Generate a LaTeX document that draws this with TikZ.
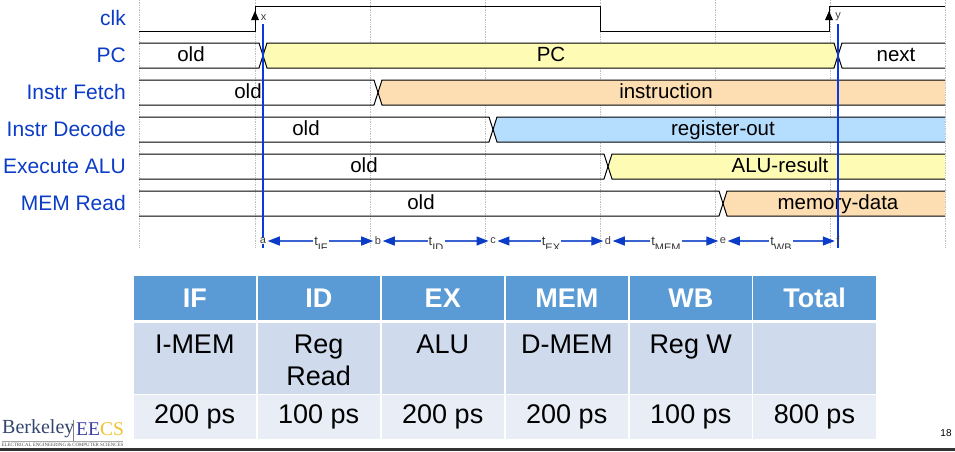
\documentclass[tikz,border=0pt]{standalone}
\usepackage{fontspec}
\setmainfont{Liberation Sans}
\newfontfamily\serifo{Liberation Serif}
\usetikzlibrary{arrows.meta}
\definecolor{sigblue}{HTML}{0B3CC8}
\definecolor{markblue}{HTML}{0A3ADF}
\definecolor{arrowblue}{HTML}{3A62D0}
\definecolor{tipblue}{HTML}{0B3CC8}
\definecolor{yel}{HTML}{FDFBB4}
\definecolor{ora}{HTML}{FDDDB2}
\definecolor{sky}{HTML}{B5DDFD}
\definecolor{hdr}{HTML}{5B9BD5}
\definecolor{rowa}{HTML}{CFDAEC}
\definecolor{rowb}{HTML}{E8EDF6}
\definecolor{logoblue}{HTML}{3A3FA0}
\definecolor{logonavy}{HTML}{34466E}
\definecolor{logogold}{HTML}{F2C230}
\tikzset{x=1pt,y=-1pt,
 siglabel/.style={anchor=base east,text=sigblue,font=\fontsize{21}{22}\selectfont,inner sep=0pt},
 wavetext/.style={anchor=base,text=black,font=\fontsize{20.5}{22}\selectfont,inner sep=0pt},
 wave/.style={draw=black,line width=1pt,line join=round},
 gridline/.style={draw=black!25,densely dotted,line width=0.7pt},
 marker/.style={draw=markblue,line width=1.1pt},
 ticktext/.style={font=\fontsize{11}{12}\selectfont,text=black!75,inner sep=1.5pt},
 timetext/.style={font=\fontsize{13}{14}\selectfont,text=black!80,inner xsep=1pt,inner ysep=0pt,fill=white},
 span/.style={draw=arrowblue,line width=1.2pt,-{Triangle[length=12pt,width=9pt,color=tipblue]},shorten >=0pt},
 hcell/.style={fill=hdr,text=white,font=\bfseries\fontsize{27}{30}\selectfont,minimum width=122.5pt,minimum height=44pt,inner sep=0pt},
 acell/.style={fill=rowa,minimum width=122.5pt,minimum height=71pt,inner sep=0pt},
 atext/.style={anchor=north,inner sep=0pt,align=center,text=black,font=\fontsize{27}{32}\selectfont},
 bcell/.style={fill=rowb,text=black,font=\fontsize{27}{30}\selectfont,minimum width=122.5pt,minimum height=44pt,inner sep=0pt},
}
\newcommand{\subs}[1]{\raisebox{-6pt}{\fontsize{11}{11}\selectfont #1}}
% row: top y, transition x, fill colour, old text x, new text x, new text, id
\newcommand{\waverow}[7]{%
 \fill[#3] (#2+4,#1) -- (945,#1) -- (945,#1+25) -- (#2+4,#1+25) -- (#2,#1+12.5) -- cycle;
 \draw[wave] (139,#1) -- (#2-4,#1) -- (#2+4,#1+25) -- (945,#1+25);
 \draw[wave] (139,#1+25) -- (#2-4,#1+25) -- (#2+4,#1) -- (945,#1);
 \node[wavetext] (old#7) at (#4,#1+18.5) {old};
 \node[wavetext] (new#7) at (#5,#1+18.5) {#6};
}
\begin{document}
\begin{tikzpicture}
\useasboundingbox (0,0) rectangle (955,451);
\fill[white] (0,0) rectangle (955,451);
% grid
\foreach \gx in {139,255,370,485,600,715,830,945}
  \draw[gridline] (\gx,0) -- (\gx,248);
% labels
\node[siglabel] (lclk) at (126,25) {clk};
\node[siglabel] (lpc) at (126,62) {PC};
\node[siglabel] (lif) at (126,99) {Instr Fetch};
\node[siglabel] (lid) at (126,136) {Instr Decode};
\node[siglabel] (lex) at (126,173) {Execute ALU};
\node[siglabel] (lmem) at (126,210) {MEM Read};
% clock
\draw[wave] (139,31) -- (255,31) -- (255,6) -- (600,6) -- (600,31) -- (829,31) -- (829,6) -- (945,6);
\fill (255,11) -- (251,20) -- (259,20) -- cycle;
\fill (829,11) -- (825,20) -- (833,20) -- cycle;
\node[ticktext] (xl) at (263.5,18) {x};
\node[ticktext] (yl) at (838,17) {y};
% PC row
\fill[yel] (267,43) -- (834,43) -- (838,55.5) -- (834,68) -- (267,68) -- (263,55.5) -- cycle;
\draw[wave] (139,43) -- (259,43) -- (267,68) -- (834,68) -- (842,43) -- (945,43);
\draw[wave] (139,68) -- (259,68) -- (267,43) -- (834,43) -- (842,68) -- (945,68);
\node[wavetext] (pcold) at (191,61.5) {old};
\node[wavetext] (pcnew) at (551,61.5) {PC};
\node[wavetext] (pcnext) at (896,61.5) {next};
% data rows
\waverow{80}{378}{ora}{248}{666}{instruction}{if}
\waverow{117}{493}{sky}{306}{723}{register-out}{id}
\waverow{154}{608}{yel}{364}{780}{ALU-result}{ex}
\waverow{191}{723}{ora}{421}{838}{memory-data}{mem}
% markers
\coordinate (xtop) at (263,24);
\coordinate (xbot) at (263,248);
\coordinate (ytop) at (838,24);
\coordinate (ybot) at (838,248);
\draw[marker] (xtop) -- (xbot);
\draw[marker] (ytop) -- (ybot);
% time marks
\node[ticktext,fill=white,inner ysep=0pt] (a) at (263,241) {a};
\node[ticktext] (b) at (378,241) {b};
\node[ticktext] (c) at (493,241) {c};
\node[ticktext] (d) at (608,241) {d};
\node[ticktext] (e) at (723,241) {e};
\node[ticktext] (f) at (838,241) {f};
\node[timetext,anchor=base] (t1) at (321,245) {t\subs{IF}};
\node[timetext,anchor=base] (t2) at (436,245) {t\subs{ID}};
\node[timetext,anchor=base] (t3) at (551,245) {t\subs{EX}};
\node[timetext,anchor=base] (t4) at (666,245) {t\subs{MEM}};
\node[timetext,anchor=base] (t5) at (781,245) {t\subs{WB}};
\draw[span] (t1.west|-a) -- (a); \draw[span] (t1.east|-a) -- (b);
\draw[span] (t2.west|-a) -- (b); \draw[span] (t2.east|-a) -- (c);
\draw[span] (t3.west|-a) -- (c); \draw[span] (t3.east|-a) -- (d);
\draw[span] (t4.west|-a) -- (d); \draw[span] (t4.east|-a) -- (e);
\draw[span] (t5.west|-a) -- (e); \draw[span] (t5.east|-a) -- (f);
\fill[white] (240,248.5) rectangle (860,256);
% table
\foreach \n/\cx/\h/\bb in {1/194.75/IF/200 ps,2/318.75/ID/100 ps,3/442.75/EX/200 ps,4/566.75/MEM/200 ps,5/690.75/WB/100 ps,6/814.5/Total/800 ps}{
 \node[hcell] (h\n) at (\cx,298) {\h};
 \node[bcell] (v\n) at (\cx,417) {\raisebox{-1.5pt}{\bb}};
}
\node[acell] (r1) at (194.75,358) {}; \node[atext] (r1t) at (194.75,335) {I-MEM};
\node[acell] (r2) at (318.75,358) {}; \node[atext] (r2t) at (318.75,335) {Reg\\Read};
\node[acell] (r3) at (442.75,358) {}; \node[atext] (r3t) at (442.75,335) {ALU};
\node[acell] (r4) at (566.75,358) {}; \node[atext] (r4t) at (566.75,335) {D-MEM};
\node[acell] (r5) at (690.75,358) {}; \node[atext] (r5t) at (690.75,335) {Reg W};
\node[acell] (r6) at (814.5,358) {};
% logo
\node[anchor=west,inner sep=0pt,font=\serifo\fontsize{20}{22}\selectfont,text=logonavy] (bk) at (2,429) {Berkeley};
\draw[black!50,line width=0.5pt] (73.5,420) -- (73.5,441);
\node[anchor=west,inner sep=0pt,font=\serifo\fontsize{19.5}{22}\selectfont] (ee) at (76,429) {\textcolor{logoblue}{EE}\textcolor{logogold}{CS}};
\draw[black!35,line width=0.4pt] (2,441.5) -- (123,441.5);
\node[anchor=west,inner sep=0pt,font=\serifo\fontsize{4.9}{5}\selectfont,text=black!70] (eng) at (1.5,444.5) {ELECTRICAL ENGINEERING \& COMPUTER SCIENCES};
% page number and bar
\node[inner sep=0pt,font=\fontsize{10}{12}\selectfont] (pg) at (946,433) {18};
\fill[black!80] (0,447.5) rectangle (955,451);
\end{tikzpicture}
\end{document}
